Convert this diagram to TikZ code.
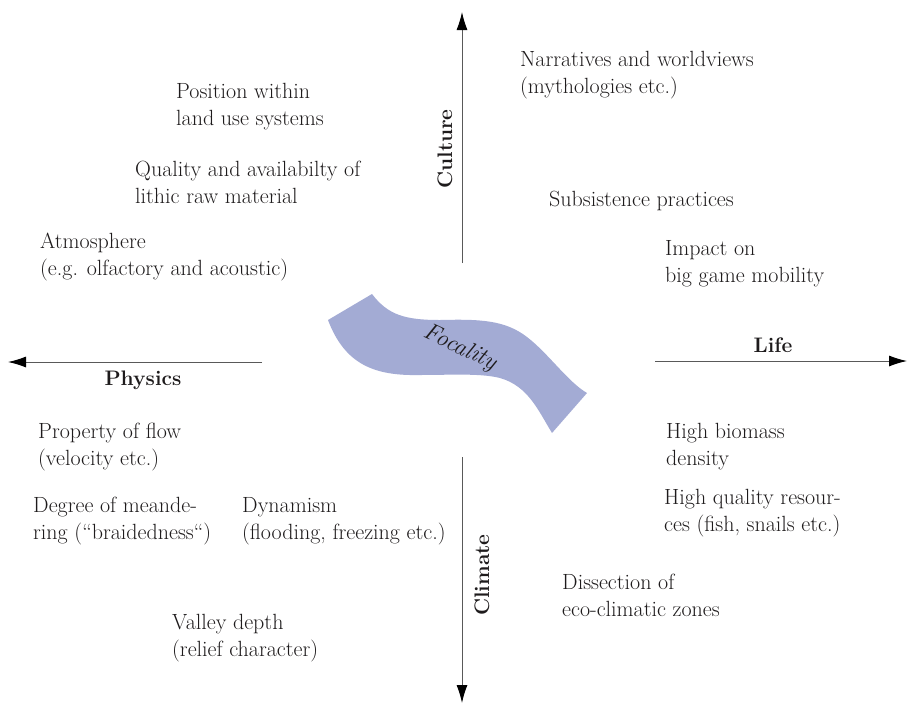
\documentclass[tikz,border=0pt]{standalone}
\usepackage{tikz}
\usetikzlibrary{arrows.meta}

\definecolor{bandblue}{RGB}{163,171,212}
\definecolor{inkgray}{RGB}{30,27,28}

\begin{document}
\begin{tikzpicture}[x=1pt, y=-1pt,
    item/.style={anchor=west, inner sep=0pt, align=left, text=inkgray,
      font=\fontsize{22}{27}\selectfont},
    axislabel/.style={inner sep=0pt, text=inkgray,
      font=\fontsize{21}{24}\selectfont\bfseries},
    axis/.style={draw=black!65, line width=1pt,
      -{Latex[length=18pt, width=11pt, black]}}]

    % Fix the page size
    \useasboundingbox (0,0) rectangle (908,705);

    % The focality band
    \fill[bandblue] (372,294) .. controls (388,315) and (405,320) .. (440,320)
      .. controls (480,319) and (505,320) .. (527,337)
      .. controls (548,353) and (568,382) .. (587,393)
      -- (552,433)
      .. controls (538,410) and (528,386) .. (500,378)
      .. controls (480,373) and (450,375) .. (420,375)
      .. controls (375,376) and (345,365) .. (328,320) -- cycle;
    \node[rotate=-25, text=inkgray, inner sep=0pt,
      font=\fontsize{24}{26}\selectfont\itshape] (focality) at (460,348) {Focality};

    % Axis end points
    \coordinate (culture-s) at (462,263);
    \coordinate (culture-e) at (462,12);
    \coordinate (climate-s) at (462,457);
    \coordinate (climate-e) at (462,703);
    \coordinate (physics-s) at (262,362);
    \coordinate (physics-e) at (8,362);
    \coordinate (life-s) at (655,361);
    \coordinate (life-e) at (907,361);

    % Draw axes
    \draw[axis] (culture-s) -- (culture-e);
    \draw[axis] (climate-s) -- (climate-e);
    \draw[axis] (physics-s) -- (physics-e);
    \draw[axis] (life-s) -- (life-e);

    % Axis labels
    \node[axislabel, rotate=90] (culture) at (445,149) {Culture};
    \node[axislabel, rotate=90] (climate) at (482,575) {Climate};
    \node[axislabel] (physics) at (143,380) {Physics};
    \node[axislabel] (life) at (773,345) {Life};

    % Culture / physics side
    \node[item] (position) at (176,107) {Position within\\land use systems};
    \node[item] (lithic) at (135,182) {Quality and availabilty of\\lithic raw material};
    \node[item] (atmosphere) at (40,257) {Atmosphere\\(e.g. olfactory and acoustic)};

    % Culture / life side
    \node[item] (narratives) at (520,75) {Narratives and worldviews\\(mythologies etc.)};
    \node[item] (subsistence) at (549,201) {Subsistence practices};
    \node[item] (impact) at (665,264) {Impact on\\big game mobility};

    % Physics / climate side
    \node[item] (flow) at (38,447) {Property of flow\\(velocity etc.)};
    \node[item] (meander) at (33,521) {Degree of meande-\\ring (“braidedness“)};
    \node[item] (dynamism) at (242,521) {Dynamism\\(flooding, freezing etc.)};
    \node[item] (valley) at (172,638) {Valley depth\\(relief character)};

    % Life / climate side
    \node[item] (biomass) at (666,447) {High biomass\\density};
    \node[item] (resources) at (664,513) {High quality resour-\\ces (fish, snails etc.)};
    \node[item] (dissection) at (562,595) {Dissection of\\eco-climatic zones};
\end{tikzpicture}
\end{document}
